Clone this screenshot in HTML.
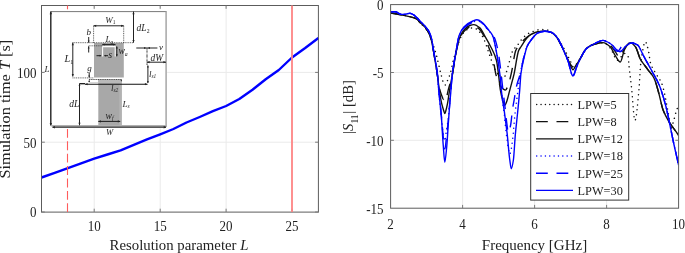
<!DOCTYPE html>
<html><head><meta charset="utf-8"><title>Simulation time and S11</title>
<style>html,body{margin:0;padding:0;background:#fff}svg{display:block}text{font-family:"Liberation Serif",serif;fill:#222}.i{font-style:italic}</style>
</head><body>
<svg width="685" height="253" viewBox="0 0 685 253">
<rect width="685" height="253" fill="#fff"/>
<g id="left">
<path d="M94.2 5.5V212.0M160.2 5.5V212.0M226.1 5.5V212.0M292.0 5.5V212.0M41.5 142.2H318.4M41.5 72.4H318.4" stroke="#eaeaea" stroke-width="1" fill="none"/>
<path d="M41.5 177.5L54.7 172.8L67.9 168.1L81.1 163.3L94.2 158.7L107.4 154.5L120.6 150.3L133.8 144.8L147.0 139.4L160.2 134.3L173.4 129.0L186.5 122.5L199.7 117.0L212.9 111.2L226.1 106.0L239.3 99.0L252.5 89.8L265.7 79.3L278.8 70.0L292.0 57.5L305.2 48.0L318.4 38.0" stroke="#0000ff" stroke-width="2.4" fill="none" stroke-linejoin="round"/>
<rect x="41.5" y="5.5" width="276.9" height="206.6" fill="none" stroke="#5c5c5c" stroke-width="1"/>
<path d="M94.2 212.0v-3.3M94.2 5.5v3.3M160.2 212.0v-3.3M160.2 5.5v3.3M226.1 212.0v-3.3M226.1 5.5v3.3M292.0 212.0v-3.3M292.0 5.5v3.3M41.5 212.0h3.3M318.4 212.0h-3.3M41.5 142.2h3.3M318.4 142.2h-3.3M41.5 72.4h3.3M318.4 72.4h-3.3" stroke="#7a7a7a" stroke-width="1" fill="none"/>
<line x1="67.5" y1="212.0" x2="67.5" y2="5.5" stroke="#ff5c5c" stroke-width="1.1" stroke-dasharray="8.9 3.5" stroke-dashoffset="0.2"/>
<line x1="292.0" y1="5.5" x2="292.0" y2="212.0" stroke="#ff8585" stroke-width="1.8"/>
<text transform="translate(94.2 231.4) scale(0.845 1)" font-size="15.4" text-anchor="middle">10</text>
<text transform="translate(160.2 231.4) scale(0.845 1)" font-size="15.4" text-anchor="middle">15</text>
<text transform="translate(226.1 231.4) scale(0.845 1)" font-size="15.4" text-anchor="middle">20</text>
<text transform="translate(292.0 231.4) scale(0.845 1)" font-size="15.4" text-anchor="middle">25</text>
<text transform="translate(36.6 217.3) scale(0.845 1)" font-size="15.4" text-anchor="end">0</text>
<text transform="translate(36.6 147.5) scale(0.845 1)" font-size="15.4" text-anchor="end">50</text>
<text transform="translate(36.6 77.8) scale(0.845 1)" font-size="15.4" text-anchor="end">100</text>
<text x="179" y="249.6" font-size="14.8" text-anchor="middle">Resolution parameter <tspan class="i">L</tspan></text>
<text transform="translate(9.7 109.2) rotate(-90) scale(1.1 1)" font-size="14.8" text-anchor="middle" x="0" y="0">Simulation time <tspan class="i">T</tspan> [s]</text>
<g id="inset">
<rect x="44.8" y="9.3" width="122.4" height="119.1" fill="#fff"/>
<rect x="94" y="43" width="29.8" height="34.5" fill="#a8a8a8"/>
<rect x="98.3" y="79" width="23.4" height="46.5" fill="#a8a8a8"/>
<rect x="98.3" y="79" width="23.4" height="4.4" fill="#b9b9b9"/>
<rect x="119.2" y="83.4" width="2.5" height="42.1" fill="#b2b2b2"/>
<path d="M102.6 56.5V46.6H115.2V56.5" stroke="#fff" stroke-width="1.05" fill="none"/>
<rect x="89" y="79.6" width="9.3" height="3" fill="#fff" stroke="#999" stroke-width="0.4"/>
<path d="M50.8 11.6H166.6" stroke="#555" stroke-width="0.8" fill="none"/>
<path d="M166.1 11.6V127" stroke="#a6a6a6" stroke-width="1.5" fill="none"/>
<path d="M50.8 11.6V125.6" stroke="#222" stroke-width="1.4" fill="none"/>
<path d="M50.8 125.7H167" stroke="#b0b0b0" stroke-width="1.6" fill="none"/>
<path d="M52.5 127.2H166" stroke="#222" stroke-width="1.3" fill="none"/>
<path d="M88.7 45.8H102.5M72.5 42.7H133.5M72.5 77.9H94M93.6 25.8V43M123.7 25.8V43M89 79.5H121.7" stroke="#333" stroke-width="0.8" stroke-dasharray="1 0.8" fill="none"/>
<path d="M147 48.5V65.5" stroke="#555" stroke-width="1.5" stroke-dasharray="0.7 0.6" fill="none"/>
<path d="M133.5 11.6V42.7M93.6 25.8H123.7M72.8 42.7V76.5M102.3 44.6H115.5M116.8 46.5V56.3M96.5 55.7H101M104.5 55.7H108M88.7 37V42.7M88.7 46.3V52.5M89.2 73V77.5M136.3 48H157.4M147 62.2H166M147.9 65.5V83M79.5 83.7H85M79.5 83.7H85M79.5 83.7V125.3M98.3 121.4H120.2" stroke="#151515" stroke-width="0.95" fill="none"/>
<path d="M85 84.2H147.5" stroke="#111" stroke-width="1.1" fill="none"/>
<path d="M133.5 11.6l-1.1 2.6h2.2zM133.5 42.7l-1.1 -2.6h2.2zM93.6 25.8l2.6 -1.1v2.2zM123.7 25.8l-2.6 -1.1v2.2zM72.8 42.7l-1.1 2.6h2.2zM72.8 76.5l-1.1 -2.6h2.2zM102.3 44.6l2.3 -1.0v2.0zM115.5 44.6l-2.3 -1.0v2.0zM116.8 46.3l-1.0 2.3h2.0zM116.8 56.5l-1.0 -2.3h2.0zM101.5 55.7l-2.0 -0.9v1.8zM104.0 55.7l2.0 -0.9v1.8zM88.7 42.7l-0.9 -2.2h1.8zM88.7 46.3l-0.9 2.2h1.8zM89.2 77.6l-0.9 -2.2h1.8zM89.2 79.8l-0.9 2.2h1.8zM121.3 81.8l-0.8 -2.0h1.6zM146.2 48.0l-2.2 -0.9v1.8zM147.8 48.0l2.2 -0.9v1.8zM147.0 62.2l2.6 -1.1v2.2zM166.0 62.2l-2.6 -1.1v2.2zM147.9 65.3l-0.9 2.2h1.8zM147.9 83.2l-0.9 -2.2h1.8zM85.0 84.2l2.6 -1.1v2.2zM147.5 84.2l-2.6 -1.1v2.2zM79.5 125.3l-1.1 -2.6h2.2zM79.5 83.7l-0.9 2.2h1.8zM98.3 121.4l2.6 -1.1v2.2zM120.4 121.4l-2.6 -1.1v2.2zM50.8 11.6l-1.2 2.6h2.4zM50.8 125.6l-1.2 -2.6h2.4zM52.3 127.2l2.6 -1.2v2.4zM166.3 127.2l-2.6 -1.2v2.4z" fill="#222" stroke="none"/>
<text x="105.3" y="22.7" font-size="9.0" class="i">W<tspan font-size="5.4" dy="1.6" font-style="normal">1</tspan></text>
<text x="136.6" y="31.0" font-size="9.5" class="i">dL<tspan font-size="5.7" dy="1.6" font-style="normal">2</tspan></text>
<text x="86.6" y="35.0" font-size="9.0" class="i">b</text>
<text x="105.4" y="42.4" font-size="9.0" class="i">L<tspan font-size="5.4" dy="1.6">a</tspan></text>
<text x="118.4" y="54.2" font-size="9.6" class="i">w<tspan font-size="5.8" dy="1.6">a</tspan></text>
<text x="108.3" y="58.2" font-size="10.0" class="i">s</text>
<text x="64.6" y="62.4" font-size="10.3" class="i">L<tspan font-size="6.2" dy="1.6" font-style="normal">1</tspan></text>
<text x="87.3" y="71.2" font-size="9.0" class="i">g</text>
<text x="159.0" y="50.3" font-size="9.0" class="i">v</text>
<text x="150.6" y="60.8" font-size="9.4" class="i">dW</text>
<text x="149.0" y="76.6" font-size="9.0" class="i">l<tspan font-size="5.4" dy="1.6">s1</tspan></text>
<text x="110.9" y="90.8" font-size="9.0" class="i">l<tspan font-size="5.4" dy="1.6">s2</tspan></text>
<text x="69.2" y="107.4" font-size="9.5" class="i">dL</text>
<text x="122.6" y="106.5" font-size="9.0" class="i">L<tspan font-size="5.4" dy="1.6">s</tspan></text>
<text x="105.6" y="118.8" font-size="9.6" class="i">w<tspan font-size="5.8" dy="1.6">f</tspan></text>
<text x="105.9" y="134.8" font-size="8.6" class="i">W</text>
<text x="44.4" y="72.0" font-size="9.0" class="i">L</text>
</g>
</g>
<g id="right">
<path d="M462.6 4.6V208.2M534.6 4.6V208.2M606.6 4.6V208.2M390.6 72.5H678.6M390.6 140.3H678.6" stroke="#eaeaea" stroke-width="1" fill="none"/>
<clipPath id="rc"><rect x="390.6" y="4.6" width="288.0" height="203.6"/></clipPath>
<g clip-path="url(#rc)" fill="none" stroke-linejoin="round">
<path d="M390.6 12.7C394.2 13.4 397.8 13.9 401.4 14.6C404.4 15.3 407.4 15.9 410.4 16.8C412.2 17.3 414.0 17.8 415.8 18.7C417.6 19.6 419.4 22.1 421.2 23.9C422.3 24.9 423.4 25.8 424.4 27.0C425.2 27.8 425.9 28.8 426.6 29.8C427.4 31.0 428.3 32.1 429.1 33.8C430.0 35.4 430.8 38.3 431.6 40.6C432.4 42.6 433.1 44.5 433.8 46.7C434.6 49.2 435.5 51.8 436.3 54.8C437.8 60.2 439.3 67.6 440.8 73.4C441.6 76.4 442.4 80.4 443.2 82.0C443.9 83.4 444.6 85.0 445.3 85.0C446.0 85.0 446.8 82.3 447.5 80.6C448.6 78.1 449.6 75.5 450.7 71.8C451.4 69.3 452.2 64.9 452.9 62.0C454.2 56.7 455.5 52.1 456.8 48.0C458.2 44.0 459.5 39.7 460.8 37.2C462.2 34.5 463.7 32.3 465.1 31.1C466.7 29.8 468.2 28.7 469.8 28.4C471.0 28.1 472.2 27.8 473.4 27.8C475.2 27.8 477.0 29.5 478.8 31.1C480.6 32.7 482.4 36.1 484.2 39.9C485.8 43.1 487.3 48.6 488.9 53.1C489.7 55.4 490.6 58.1 491.4 60.3C493.2 64.9 495.0 70.0 496.8 72.5C498.4 74.6 499.9 76.6 501.5 77.2C502.3 77.6 503.2 77.9 504.0 77.9C504.6 77.9 505.2 75.4 505.8 73.8C507.0 70.6 508.2 65.6 509.4 61.6C510.6 57.7 511.8 51.9 513.0 50.1C514.2 48.2 515.4 47.8 516.6 46.4C517.6 45.3 518.5 43.8 519.5 42.5C520.4 41.2 521.4 39.6 522.4 38.5C523.7 37.1 525.0 36.0 526.3 35.0C527.7 34.0 529.1 33.0 530.5 32.4C532.1 31.7 533.7 31.3 535.3 30.8C537.0 30.3 538.7 29.4 540.4 29.4C542.0 29.4 543.7 29.4 545.4 29.4C547.0 29.4 548.5 30.6 550.1 31.5C551.5 32.2 552.8 33.2 554.2 34.5C555.4 35.5 556.5 37.0 557.6 38.5C558.7 39.9 559.7 41.4 560.7 43.0C562.7 46.1 564.7 49.7 566.6 53.5C568.0 56.0 569.3 59.0 570.6 61.6C571.6 63.5 572.5 67.0 573.5 67.0C574.4 67.0 575.4 65.4 576.4 64.3C577.3 63.2 578.3 61.7 579.2 60.3C581.9 56.4 584.5 50.1 587.2 48.0C589.8 46.0 592.4 44.6 595.1 44.0C597.7 43.3 600.4 42.6 603.0 42.6C605.4 42.6 607.8 45.5 610.2 48.0C612.6 50.5 615.0 60.3 617.4 60.3C619.8 60.3 622.2 53.5 624.6 53.5C625.8 53.5 627.0 54.3 628.2 56.7C628.5 57.3 628.8 63.7 629.1 66.8C630.0 74.8 630.8 80.8 631.6 88.3C632.7 98.4 633.8 120.5 634.9 120.5C636.3 120.5 637.6 104.1 639.0 89.3C639.5 84.1 640.0 72.0 640.4 66.8C640.8 62.8 641.2 59.7 641.5 57.5C642.8 50.0 644.0 41.8 645.3 41.8C646.4 41.8 647.6 47.3 648.7 52.1C649.3 54.5 649.8 60.7 650.4 62.6C652.0 67.9 653.6 69.5 655.2 72.5C657.4 76.5 659.5 78.3 661.7 83.3C662.2 84.6 662.8 86.4 663.3 88.3C664.8 93.9 666.3 102.7 667.8 110.5C668.9 116.1 670.0 128.1 671.0 128.1C671.8 128.1 672.5 124.6 673.2 122.4C674.2 119.5 675.1 114.8 676.1 111.8C676.9 109.2 677.8 107.3 678.6 105.0" stroke="#111" stroke-width="1.50" stroke-dasharray="0.01 5" stroke-linecap="round"/>
<path d="M390.6 13.0C394.2 13.6 397.8 14.2 401.4 14.9C404.8 15.6 408.1 16.2 411.5 17.1C413.2 17.5 414.8 18.0 416.5 18.9C418.1 19.7 419.6 22.1 421.2 23.6C422.3 24.6 423.4 25.4 424.4 26.6C425.2 27.4 425.9 28.5 426.6 29.6C427.4 30.8 428.3 31.7 429.1 33.4C430.0 35.1 430.8 37.8 431.6 41.2C432.2 43.4 432.7 47.0 433.3 50.1C434.6 57.6 435.9 65.6 437.2 73.8C438.0 78.7 438.8 85.5 439.6 88.8C440.3 91.8 441.0 93.7 441.7 95.5C442.3 97.1 442.9 99.5 443.5 99.5C444.0 99.5 444.5 96.9 445.0 96.9C445.3 96.9 445.6 98.9 445.9 98.9C446.6 98.9 447.4 93.1 448.2 90.1C449.6 84.7 451.1 80.5 452.5 73.8C453.8 67.7 455.2 55.8 456.5 50.1C457.8 44.3 459.1 39.1 460.4 36.5C461.9 33.6 463.4 31.8 464.9 30.4C466.6 28.9 468.2 27.6 469.8 27.0C471.0 26.5 472.2 26.0 473.4 26.0C475.3 26.0 477.2 27.5 479.2 29.0C480.8 30.3 482.5 33.4 484.2 36.5C485.6 39.1 487.1 42.9 488.5 46.7C490.1 50.7 491.6 54.3 493.2 60.3C494.2 63.9 495.1 71.9 496.1 75.2C497.5 80.2 499.0 84.3 500.4 86.0C502.1 88.1 503.8 90.1 505.4 90.1C506.4 90.1 507.4 87.1 508.3 84.7C509.3 82.3 510.2 77.9 511.2 73.8C512.8 67.2 514.3 53.5 515.9 50.1C517.3 46.9 518.8 45.7 520.2 44.0C522.4 41.3 524.7 39.0 526.9 37.2C528.6 35.8 530.3 34.6 531.9 33.8C533.9 32.9 535.9 32.1 537.8 31.7C540.2 31.4 542.5 31.1 544.8 31.1C547.1 31.1 549.4 31.7 551.7 32.6C553.4 33.2 555.0 35.1 556.7 37.2C558.2 39.0 559.7 42.4 561.2 45.3C562.4 47.6 563.6 50.2 564.8 52.8C566.2 55.6 567.5 59.5 568.8 61.6C570.2 63.9 571.7 67.0 573.1 67.0C574.0 67.0 574.8 65.8 575.6 65.0C576.7 63.9 577.8 62.4 578.9 60.9C581.5 57.3 584.2 50.0 586.8 48.0C589.6 45.9 592.3 44.7 595.1 44.0C597.7 43.3 600.4 42.6 603.0 42.6C605.4 42.6 607.8 43.9 610.2 45.3C612.0 46.4 613.8 49.7 615.6 52.1C616.9 53.8 618.2 57.5 619.6 57.5C621.2 57.5 622.9 50.2 624.6 48.0C626.5 45.6 628.4 42.6 630.4 42.6C632.0 42.6 633.7 44.6 635.4 46.7C637.2 48.9 639.0 57.1 640.8 60.1C641.4 61.1 642.0 61.8 642.6 62.6C644.4 65.0 646.2 67.3 648.0 69.8C650.0 72.5 652.1 74.3 654.1 78.3C655.6 81.1 657.0 86.8 658.4 91.7C660.0 97.1 661.6 105.9 663.1 110.1C665.2 115.6 667.3 118.9 669.4 122.4C672.4 127.3 675.3 129.9 678.2 134.9C678.4 135.1 678.5 135.4 678.6 135.6" stroke="#111" stroke-width="1.40" stroke-dasharray="11.8 8.7"/>
<path d="M390.6 13.0C394.2 13.6 397.8 14.2 401.4 14.9C404.8 15.6 408.1 16.2 411.5 17.1C413.2 17.5 414.8 18.0 416.5 18.9C418.1 19.7 419.6 22.1 421.2 23.6C422.3 24.6 423.4 25.4 424.4 26.6C425.2 27.4 425.9 28.5 426.6 29.6C427.4 30.8 428.3 31.7 429.1 33.4C430.0 35.1 430.8 37.8 431.6 41.2C432.2 43.4 432.7 47.0 433.3 50.1C434.6 57.6 435.9 64.8 437.2 73.8C438.0 79.2 438.8 87.1 439.6 92.0C440.3 96.6 441.0 100.6 441.7 103.7C442.4 106.7 443.2 109.1 443.9 111.2C444.2 112.0 444.5 113.5 444.8 113.5C445.1 113.5 445.4 112.1 445.7 111.2C446.3 109.3 446.9 106.7 447.5 103.7C448.1 100.6 448.7 95.6 449.3 92.0C450.4 85.5 451.4 80.1 452.5 73.8C453.8 66.2 455.2 56.0 456.5 50.1C457.8 44.1 459.1 38.6 460.4 35.8C461.9 32.6 463.4 30.5 464.9 29.0C466.6 27.4 468.2 26.1 469.8 25.5C471.1 25.0 472.4 24.6 473.8 24.6C475.8 24.6 477.8 26.2 479.8 27.9C481.5 29.3 483.1 33.0 484.7 35.8C486.7 39.2 488.7 42.6 490.7 46.7C492.6 50.6 494.5 53.0 496.4 60.3C497.2 63.0 497.9 69.7 498.6 75.2C499.2 79.7 499.8 86.6 500.4 90.1C501.2 95.0 502.1 98.4 502.9 101.0C503.5 102.8 504.1 105.4 504.7 105.4C505.4 105.4 506.2 102.9 506.9 101.0C507.8 98.4 508.8 93.7 509.8 90.1C511.2 84.7 512.6 80.0 514.1 73.8C515.6 67.1 517.2 53.4 518.8 50.1C519.5 48.5 520.2 47.9 520.9 46.9C522.9 43.9 524.9 40.1 526.9 38.0C528.6 36.3 530.3 34.9 531.9 34.0C533.9 33.0 535.9 32.1 537.8 31.7C540.2 31.4 542.5 31.1 544.8 31.1C547.1 31.1 549.4 31.7 551.7 32.6C553.4 33.2 555.0 35.1 556.7 37.2C558.2 39.0 559.7 42.4 561.2 45.3C562.4 47.6 563.6 50.2 564.8 52.8C566.2 55.6 567.5 58.9 568.8 61.6C570.2 64.6 571.7 69.8 573.1 69.8C573.8 69.8 574.6 67.5 575.3 66.4C576.5 64.5 577.7 62.8 578.9 60.9C581.5 56.8 584.2 50.0 586.8 48.0C589.6 45.9 592.3 44.7 595.1 44.0C597.7 43.3 600.4 42.6 603.0 42.6C605.4 42.6 607.8 44.6 610.2 46.7C612.0 48.3 613.8 53.6 615.6 56.2C617.2 58.4 618.7 62.0 620.3 62.0C621.7 62.0 623.2 51.9 624.6 49.4C626.5 46.1 628.4 42.6 630.4 42.6C632.0 42.6 633.7 44.6 635.4 46.7C637.2 48.9 639.0 57.1 640.8 60.1C641.4 61.1 642.0 61.8 642.6 62.6C644.4 65.0 646.2 67.3 648.0 69.8C650.0 72.5 652.1 74.3 654.1 78.3C655.6 81.1 657.0 86.8 658.4 91.7C660.0 97.1 661.6 105.9 663.1 110.1C665.2 115.6 667.3 118.9 669.4 122.4C672.4 127.3 675.3 129.9 678.2 134.9C678.4 135.1 678.5 135.4 678.6 135.6" stroke="#111" stroke-width="1.40"/>
<path d="M390.6 11.8C392.2 11.8 393.7 11.8 395.3 11.8C397.3 11.8 399.4 14.4 401.4 14.4C402.8 14.4 404.3 14.2 405.7 14.1C407.0 14.0 408.4 13.3 409.7 13.3C410.8 13.3 411.8 13.9 412.9 14.4C414.1 14.9 415.3 16.3 416.5 17.4C418.1 18.8 419.6 20.7 421.2 22.2C422.3 23.3 423.4 24.2 424.4 25.4C425.2 26.2 425.9 27.2 426.6 28.2C427.4 29.4 428.3 30.2 429.1 31.7C430.0 33.5 431.0 36.1 431.9 40.0C432.4 42.2 432.9 46.7 433.5 50.1C434.7 58.0 436.0 63.1 437.2 73.8C437.7 78.3 438.3 86.4 438.8 92.0C439.6 100.7 440.4 108.3 441.2 115.9C441.8 121.6 442.4 128.1 443.0 132.2C443.5 135.8 444.1 141.0 444.6 141.0C445.1 141.0 445.7 135.5 446.2 132.2C447.0 127.5 447.8 122.8 448.6 115.9C449.2 110.0 449.9 99.3 450.5 92.0C451.1 85.4 451.7 78.5 452.3 73.8C453.6 63.6 455.0 57.2 456.3 50.1C457.2 45.1 458.1 39.0 459.0 36.5C460.6 32.1 462.3 29.6 463.9 27.9C466.9 25.0 469.9 23.5 472.9 22.2C474.2 21.7 475.6 20.9 477.0 20.9C478.7 20.9 480.4 22.0 482.0 23.1C483.7 24.1 485.4 27.0 487.1 29.0C489.0 31.4 490.9 32.5 492.8 36.5C493.9 38.7 495.0 44.4 496.1 50.1C497.3 56.3 498.5 64.9 499.7 75.2C500.2 79.3 500.6 85.8 501.1 90.1C502.1 98.6 503.0 103.9 504.0 111.8C504.9 119.6 505.9 131.2 506.8 137.6C507.8 144.4 508.8 153.9 509.8 153.9C510.8 153.9 511.8 145.5 512.8 138.0C513.4 133.4 514.1 122.5 514.7 116.6C515.6 108.2 516.4 102.3 517.3 95.5C518.3 88.1 519.2 79.3 520.2 73.8C521.3 67.6 522.4 63.2 523.4 58.9C524.5 54.6 525.6 49.8 526.7 47.4C528.4 43.4 530.2 41.2 531.9 39.0C533.9 36.5 535.9 33.8 537.8 33.0C540.2 32.0 542.5 31.2 544.8 31.2C547.1 31.2 549.4 31.8 551.7 32.5C553.4 33.0 555.0 35.0 556.7 37.0C558.4 39.0 560.0 42.5 561.7 45.9C562.7 48.0 563.8 50.8 564.8 53.3C566.0 56.1 567.1 58.3 568.3 61.7C568.9 63.7 569.6 66.7 570.2 69.1C570.7 70.8 571.2 73.1 571.7 74.1C572.1 75.0 572.5 76.0 572.9 76.0C573.4 76.0 573.8 74.9 574.2 74.1C574.8 72.9 575.4 70.3 576.0 68.7C577.0 66.1 577.9 63.7 578.9 61.7C581.5 56.3 584.2 50.6 586.8 48.3C589.6 45.9 592.3 44.7 595.1 43.4C597.7 42.2 600.4 40.4 603.0 40.4C605.6 40.4 608.3 42.4 610.9 44.0C613.9 45.7 616.9 51.7 619.9 51.7C622.0 51.7 624.0 47.4 626.0 46.0C628.2 44.5 630.4 42.6 632.5 42.6C634.2 42.6 635.9 43.8 637.6 45.0C639.7 46.7 641.9 52.8 644.0 56.7C644.9 58.4 645.8 60.1 646.7 61.7C648.6 65.2 650.5 68.3 652.3 71.8C654.6 76.0 656.9 79.6 659.2 85.1C661.4 90.4 663.6 97.6 665.8 106.0C667.4 112.1 669.1 120.9 670.7 128.7C671.5 132.7 672.4 137.1 673.2 141.0C675.0 149.5 676.8 157.0 678.6 165.0" stroke="#0000ff" stroke-width="1.50" stroke-dasharray="0.01 5" stroke-linecap="round"/>
<path d="M390.6 11.8C392.2 11.8 393.7 11.8 395.3 11.8C397.3 11.8 399.4 14.4 401.4 14.4C402.8 14.4 404.3 14.2 405.7 14.1C407.0 14.0 408.4 13.3 409.7 13.3C410.8 13.3 411.8 13.9 412.9 14.4C414.1 14.9 415.3 16.3 416.5 17.4C418.1 18.8 419.6 20.7 421.2 22.2C422.3 23.3 423.4 24.2 424.4 25.4C425.2 26.2 425.9 27.2 426.6 28.2C427.4 29.4 428.3 30.2 429.1 31.7C430.0 33.5 431.0 36.1 431.9 40.0C432.4 42.2 432.9 46.8 433.5 50.1C434.8 58.2 436.1 63.2 437.4 73.8C437.9 78.3 438.5 86.3 439.0 92.0C439.9 100.8 440.7 107.9 441.5 116.9C442.1 123.3 442.7 132.3 443.3 137.6C443.9 142.2 444.4 149.0 444.9 149.0C445.4 149.0 445.9 141.8 446.4 137.6C447.1 131.5 447.9 124.8 448.6 116.9C449.3 109.7 450.0 99.5 450.6 92.0C451.2 85.4 451.8 78.6 452.4 73.8C453.7 63.7 455.0 57.1 456.3 50.1C457.2 45.1 458.1 39.0 459.0 36.5C460.6 32.1 462.3 29.6 463.9 27.9C466.9 25.0 469.9 23.2 472.9 22.2C474.4 21.7 475.9 21.2 477.4 21.2C479.2 21.2 481.0 22.3 482.8 23.3C484.4 24.3 486.1 27.1 487.8 29.0C489.8 31.4 491.9 32.7 493.9 36.5C495.2 39.0 496.6 43.8 497.9 50.1C499.0 55.4 500.2 65.7 501.3 75.2C501.8 79.7 502.4 85.4 502.9 90.1C503.6 96.4 504.4 101.6 505.1 107.8C505.7 112.9 506.3 119.8 506.9 124.0C507.4 127.4 507.8 132.5 508.3 132.5C509.2 132.5 510.0 128.3 510.8 124.0C511.3 121.6 511.8 114.5 512.3 111.0C512.9 106.2 513.6 102.9 514.3 99.1C515.0 94.5 515.8 89.4 516.6 86.0C517.8 80.9 519.0 78.5 520.2 73.8C521.3 69.6 522.4 63.4 523.4 58.9C524.4 54.9 525.4 50.3 526.3 48.0C528.2 43.6 530.1 41.3 531.9 39.0C533.9 36.5 535.9 33.8 537.8 33.0C540.2 32.0 542.5 31.2 544.8 31.2C547.1 31.2 549.4 31.8 551.7 32.5C553.4 33.0 555.0 35.0 556.7 37.0C558.4 39.0 560.0 42.5 561.7 45.9C562.7 48.0 563.8 50.8 564.8 53.3C566.0 56.1 567.1 58.3 568.3 61.7C568.9 63.7 569.6 66.7 570.2 69.1C570.7 70.8 571.2 73.1 571.7 74.1C572.1 75.0 572.5 76.0 572.9 76.0C573.4 76.0 573.8 74.9 574.2 74.1C574.8 72.9 575.4 70.3 576.0 68.7C577.0 66.1 577.9 63.7 578.9 61.7C581.5 56.3 584.2 50.6 586.8 48.3C589.6 45.9 592.3 44.7 595.1 43.4C597.7 42.2 600.4 40.4 603.0 40.4C605.4 40.4 607.8 42.9 610.2 44.6C612.6 46.4 615.0 51.4 617.4 51.4C619.2 51.4 621.0 46.3 622.8 45.3C624.6 44.3 626.4 43.3 628.2 43.3C629.6 43.3 631.1 43.3 632.5 43.3C634.2 43.3 635.9 44.1 637.6 45.0C639.7 46.3 641.9 52.8 644.0 56.7C644.9 58.4 645.8 60.1 646.7 61.7C648.6 65.2 650.5 68.3 652.3 71.8C654.6 76.0 656.9 79.6 659.2 85.1C661.4 90.4 663.6 97.6 665.8 106.0C667.4 112.1 669.1 120.9 670.7 128.7C671.5 132.7 672.4 137.1 673.2 141.0C675.0 149.5 676.8 157.0 678.6 165.0" stroke="#0000ff" stroke-width="1.40" stroke-dasharray="11.8 8.7"/>
<path d="M390.6 11.8C392.2 11.8 393.7 11.8 395.3 11.8C397.3 11.8 399.4 14.4 401.4 14.4C402.8 14.4 404.3 14.2 405.7 14.1C407.0 14.0 408.4 13.3 409.7 13.3C410.8 13.3 411.8 13.9 412.9 14.4C414.1 14.9 415.3 16.3 416.5 17.4C418.1 18.8 419.6 20.7 421.2 22.2C422.3 23.3 423.4 24.2 424.4 25.4C425.2 26.2 425.9 27.2 426.6 28.2C427.4 29.4 428.3 30.2 429.1 31.7C430.0 33.5 431.0 36.1 431.9 40.0C432.4 42.2 432.9 46.8 433.5 50.1C434.8 58.2 436.1 62.8 437.4 73.8C437.9 78.1 438.4 86.5 438.9 92.0C439.7 101.1 440.5 106.7 441.4 116.9C442.0 124.6 442.6 138.0 443.3 146.0C443.8 152.4 444.3 162.3 444.8 162.3C445.4 162.3 446.1 153.0 446.8 146.0C447.4 139.0 448.1 125.9 448.8 116.9C449.4 108.0 450.1 99.6 450.8 92.0C451.3 85.5 451.9 78.4 452.4 73.8C453.7 63.4 455.0 57.3 456.3 50.1C457.2 44.9 458.1 38.4 459.0 35.8C460.6 31.2 462.3 28.7 463.9 27.0C466.9 24.0 469.9 22.2 472.9 21.0C474.2 20.5 475.5 19.8 476.9 19.8C478.5 19.8 480.2 20.9 481.8 22.0C483.5 23.0 485.1 25.9 486.7 27.9C488.7 30.5 490.7 31.6 492.7 35.8C493.8 38.2 495.0 44.4 496.1 50.1C497.4 56.8 498.7 63.7 500.0 75.2C500.5 78.8 500.9 86.2 501.3 90.1C502.3 99.5 503.3 104.2 504.4 111.8C505.3 119.2 506.3 126.1 507.3 134.9C508.1 142.2 508.9 154.2 509.8 160.0C510.3 163.7 510.8 168.8 511.3 168.8C512.0 168.8 512.7 164.4 513.4 160.0C514.0 155.8 514.7 142.1 515.3 134.9C516.1 126.1 516.9 119.9 517.7 111.8C518.4 105.0 519.0 98.2 519.7 90.1C520.1 85.2 520.5 77.1 520.9 73.8C521.9 66.2 522.8 63.1 523.8 58.9C524.8 54.3 525.9 49.3 526.9 46.9C528.6 43.0 530.3 41.1 531.9 39.0C533.9 36.5 535.9 33.8 537.8 33.0C540.2 32.0 542.5 31.2 544.8 31.2C547.1 31.2 549.4 31.8 551.7 32.5C553.4 33.0 555.0 35.0 556.7 37.0C558.4 39.0 560.0 42.5 561.7 45.9C562.7 48.0 563.8 50.8 564.8 53.3C566.0 56.1 567.1 58.3 568.3 61.7C568.9 63.7 569.6 66.7 570.2 69.1C570.7 70.8 571.2 73.1 571.7 74.1C572.1 75.0 572.5 76.0 572.9 76.0C573.4 76.0 573.8 74.9 574.2 74.1C574.8 72.9 575.4 70.3 576.0 68.7C577.0 66.1 577.9 63.7 578.9 61.7C581.5 56.3 584.2 50.6 586.8 48.3C589.6 45.9 592.3 44.7 595.1 43.4C597.7 42.2 600.4 40.4 603.0 40.4C605.6 40.4 608.3 42.4 610.9 44.0C613.9 45.7 616.9 51.7 619.9 51.7C622.0 51.7 624.0 47.4 626.0 46.0C628.2 44.5 630.4 42.6 632.5 42.6C634.2 42.6 635.9 43.8 637.6 45.0C639.7 46.7 641.9 52.8 644.0 56.7C644.9 58.4 645.8 60.1 646.7 61.7C648.6 65.2 650.5 68.3 652.3 71.8C654.6 76.0 656.9 79.6 659.2 85.1C661.4 90.4 663.6 97.6 665.8 106.0C667.4 112.1 669.1 120.9 670.7 128.7C671.5 132.7 672.4 137.1 673.2 141.0C675.0 149.5 676.8 157.0 678.6 165.0" stroke="#0000ff" stroke-width="1.40"/>
</g>
<rect x="390.6" y="4.6" width="288.0" height="203.6" fill="none" stroke="#5c5c5c" stroke-width="1"/>
<path d="M462.6 208.2v-3.3M462.6 4.6v3.3M534.6 208.2v-3.3M534.6 4.6v3.3M606.6 208.2v-3.3M606.6 4.6v3.3M390.6 72.5h3.3M678.6 72.5h-3.3M390.6 140.3h3.3M678.6 140.3h-3.3" stroke="#7a7a7a" stroke-width="1" fill="none"/>
<text transform="translate(390.6 229.4) scale(0.845 1)" font-size="15.4" text-anchor="middle">2</text>
<text transform="translate(462.6 229.4) scale(0.845 1)" font-size="15.4" text-anchor="middle">4</text>
<text transform="translate(534.6 229.4) scale(0.845 1)" font-size="15.4" text-anchor="middle">6</text>
<text transform="translate(606.6 229.4) scale(0.845 1)" font-size="15.4" text-anchor="middle">8</text>
<text transform="translate(678.6 229.4) scale(0.845 1)" font-size="15.4" text-anchor="middle">10</text>
<text transform="translate(383.6 9.9) scale(0.845 1)" font-size="15.4" text-anchor="end">0</text>
<text transform="translate(383.6 77.8) scale(0.845 1)" font-size="15.4" text-anchor="end">-5</text>
<text transform="translate(383.6 145.6) scale(0.845 1)" font-size="15.4" text-anchor="end">-10</text>
<text transform="translate(383.6 213.5) scale(0.845 1)" font-size="15.4" text-anchor="end">-15</text>
<text x="534.5" y="249.6" font-size="15" text-anchor="middle">Frequency [GHz]</text>
<text transform="translate(352.8 107) rotate(-90) scale(0.95 1)" font-size="15.5" text-anchor="middle">|<tspan class="i">S</tspan><tspan font-size="10" dy="5.6">11</tspan><tspan dy="-5.6" dx="0.8">| [dB]</tspan></text>
<rect x="530.7" y="93.5" width="98" height="106.6" fill="#fff" stroke="#333" stroke-width="1"/>
<path d="M536.7 104.4H572" stroke="#111" stroke-width="1.5" stroke-dasharray="0.01 4.34" stroke-linecap="round"/>
<text transform="translate(577.6 108.8) scale(0.94 1)" font-size="13.1">LPW=5</text>
<path d="M536 121.6H573" stroke="#111" stroke-width="1.4" stroke-dasharray="11.8 8.7"/>
<text transform="translate(577.6 126.0) scale(0.94 1)" font-size="13.1">LPW=8</text>
<path d="M536 138.8H573" stroke="#111" stroke-width="1.3"/>
<text transform="translate(577.6 143.2) scale(0.94 1)" font-size="13.1">LPW=12</text>
<path d="M536.7 156.0H572" stroke="#0000ff" stroke-width="1.5" stroke-dasharray="0.01 4.34" stroke-linecap="round"/>
<text transform="translate(577.6 160.4) scale(0.94 1)" font-size="13.1">LPW=18</text>
<path d="M536 173.2H573" stroke="#0000ff" stroke-width="1.4" stroke-dasharray="11.8 8.7"/>
<text transform="translate(577.6 177.6) scale(0.94 1)" font-size="13.1">LPW=25</text>
<path d="M536 190.4H573" stroke="#0000ff" stroke-width="1.3"/>
<text transform="translate(577.6 194.8) scale(0.94 1)" font-size="13.1">LPW=30</text>
</g>
</svg>
</body></html>
